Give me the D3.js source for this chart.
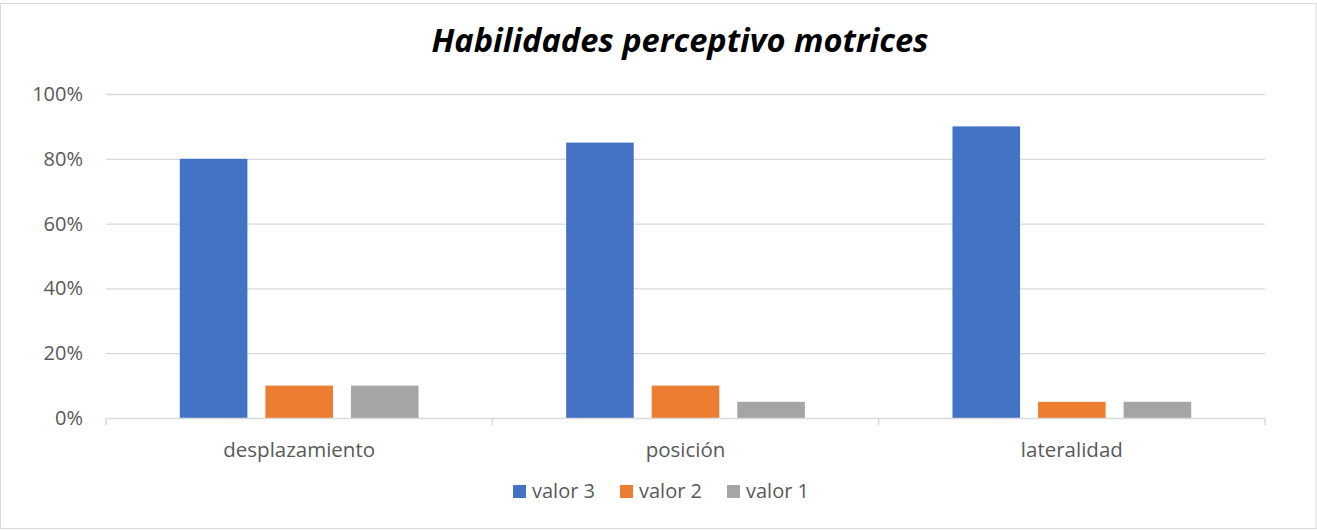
<!DOCTYPE html>
<html>
<head>
<meta charset="utf-8">
<script src="https://cdn.jsdelivr.net/npm/d3@7"></script>
<style>
  body { margin: 0; background: #fff; }
  text { font-family: "Open Sans", "Liberation Sans", sans-serif; }
</style>
</head>
<body>
<div id="chart"></div>
<script>
// data
const CATEGORIES = ["desplazamiento", "posición", "lateralidad"];
const SERIES = ["valor 3", "valor 2", "valor 1"];
const VALOR_3 = [0.80, 0.85, 0.90];
const VALOR_2 = [0.10, 0.10, 0.05];
const VALOR_1 = [0.10, 0.05, 0.05];
const Y_TICKS = [0, 0.2, 0.4, 0.6, 0.8, 1.0];
const COLORS = ["#4472C4", "#ED7D31", "#A5A5A5"];

const FRAME_WIDTH = 1317;
const FRAME_HEIGHT = 530;
const MARGINS = {left: 106, right: 52, top: 94, bottom: 112};
const VIS_WIDTH = FRAME_WIDTH - MARGINS.left - MARGINS.right;
const VIS_HEIGHT = FRAME_HEIGHT - MARGINS.top - MARGINS.bottom;

const seriesValues = [VALOR_3, VALOR_2, VALOR_1];
const rows = [];
CATEGORIES.forEach((c, i) => {
  SERIES.forEach((s, j) => {
    rows.push({cat: c, series: s, value: seriesValues[j][i], color: COLORS[j]});
  });
});

const FRAME = d3.select("#chart")
  .append("svg")
    .attr("width", FRAME_WIDTH)
    .attr("height", FRAME_HEIGHT);

// chart border
FRAME.append("rect")
  .attr("x", 0.5).attr("y", 3.5)
  .attr("width", FRAME_WIDTH - 1.5).attr("height", FRAME_HEIGHT - 5)
  .attr("fill", "#fff")
  .attr("stroke", "#d9d9d9");

// title
FRAME.append("text")
  .attr("x", 680).attr("y", 52)
  .attr("text-anchor", "middle")
  .attr("font-size", "32.6px")
  .attr("font-weight", "bold")
  .attr("font-style", "italic")
  .attr("fill", "#000")
  .text("Habilidades perceptivo motrices");

const X_SCALE = d3.scaleBand()
  .domain(CATEGORIES)
  .range([0, VIS_WIDTH]);

const bandW = X_SCALE.bandwidth();
const X_INNER = d3.scaleBand()
  .domain(SERIES)
  .range([73.8, bandW - 73.8])
  .paddingInner(0.21);

const Y_SCALE = d3.scaleLinear()
  .domain([0, 1])
  .range([VIS_HEIGHT, 0]);

const G = FRAME.append("g")
  .attr("transform", "translate(" + MARGINS.left + "," + MARGINS.top + ")");

// gridlines
G.append("g")
  .call(d3.axisLeft(Y_SCALE).tickValues(Y_TICKS.slice(1)).tickSize(-VIS_WIDTH).tickFormat(""))
  .call(g => g.select(".domain").remove())
  .call(g => g.selectAll("line").attr("stroke", "#d9d9d9").attr("stroke-width", 1.3));

// y labels
G.append("g")
  .call(d3.axisLeft(Y_SCALE).tickValues(Y_TICKS).tickSize(0).tickPadding(23).tickFormat(d3.format(".0%")))
  .call(g => g.select(".domain").remove())
  .call(g => g.selectAll("text").attr("fill", "#595959").attr("font-size", "20px")
    .attr("font-family", "'Open Sans', 'Liberation Sans', sans-serif"));

// bars
G.selectAll(".bar")
  .data(rows)
  .enter()
  .append("rect")
    .attr("class", "bar")
    .attr("x", d => X_SCALE(d.cat) + X_INNER(d.series))
    .attr("y", d => Y_SCALE(d.value))
    .attr("width", X_INNER.bandwidth())
    .attr("height", d => VIS_HEIGHT - Y_SCALE(d.value))
    .attr("fill", d => d.color);

// x axis
const xAxis = G.append("g")
  .attr("transform", "translate(0," + VIS_HEIGHT + ")")
  .call(d3.axisBottom(X_SCALE).tickSize(0).tickPadding(24))
  .call(g => g.select(".domain").attr("stroke", "#d9d9d9").attr("stroke-width", 1.5))
  .call(g => g.selectAll("text").attr("fill", "#595959").attr("font-size", "20.5px")
    .attr("font-family", "'Open Sans', 'Liberation Sans', sans-serif"));

// category separators
const seps = [0].concat(CATEGORIES.map(c => X_SCALE(c) + bandW));
xAxis.selectAll(".sep")
  .data(seps)
  .enter()
  .append("line")
    .attr("x1", d => d).attr("x2", d => d)
    .attr("y1", 0).attr("y2", 7)
    .attr("stroke", "#d9d9d9").attr("stroke-width", 1.5);

// legend
const legendX = [513, 620, 727];
const legend = FRAME.append("g");
SERIES.forEach((s, i) => {
  legend.append("rect")
    .attr("x", legendX[i]).attr("y", 485)
    .attr("width", 13).attr("height", 13)
    .attr("fill", COLORS[i]);
  legend.append("text")
    .attr("x", legendX[i] + 19).attr("y", 498)
    .attr("fill", "#595959")
    .attr("font-size", "20px")
    .text(s);
});
</script>
</body>
</html>
